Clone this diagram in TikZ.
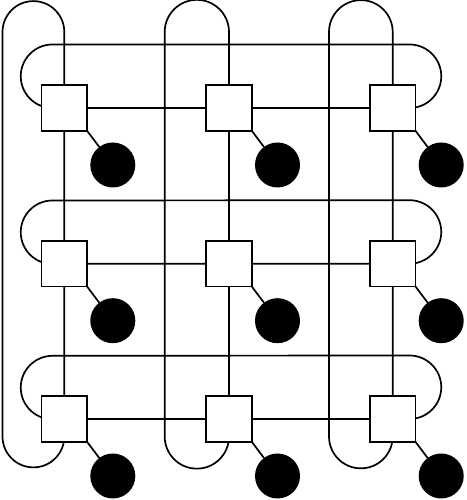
\documentclass[tikz,border=0pt]{standalone}
\begin{document}
\begin{tikzpicture}[x=1pt,y=1pt,
  wire/.style={draw=black,line width=1.7pt},
  router/.style={draw=black,fill=white,line width=1.7pt,minimum size=45.5pt,inner sep=0pt,outer sep=0pt},
  core/.style={circle,fill=black,minimum size=45pt,inner sep=0pt,outer sep=0pt},
  link/.style={draw=black,line width=1.7pt}]
\useasboundingbox (0,0) rectangle (466,500);
% column wrap-around loops
\foreach \xl/\xr in {2.5/64.3, 164.7/229, 329/392.7}{
  \pgfmathsetmacro\rr{(\xr-\xl)/2}
  \draw[wire] (\xl,63.5) -- (\xl,468) arc[start angle=180,end angle=0,radius=\rr]
    -- (\xr,63.5) arc[start angle=0,end angle=-180,radius=\rr] -- cycle;
}
% row wrap-around loops
\foreach \yb/\yt in {392/455.5, 236.3/299.5, 81/144.2}{
  \draw[wire] (52.5,\yb) -- (409.5,\yb) arc[start angle=-90,end angle=90,radius=31.75]
    -- (52.5,\yt) arc[start angle=90,end angle=270,radius=31.75] -- cycle;
}
% routers and cores
\foreach \r/\y in {1/392, 2/236.3, 3/81}{
  \foreach \c/\x in {1/64.3, 2/229, 3/392.7}{
    \node[router] (b\r\c) at (\x,\y) {};
    \node[core] (c\r\c) at (\x+48.5,\y-57) {};
    \draw[link] (b\r\c.south east) -- (c\r\c);
  }
}
\end{tikzpicture}
\end{document}
